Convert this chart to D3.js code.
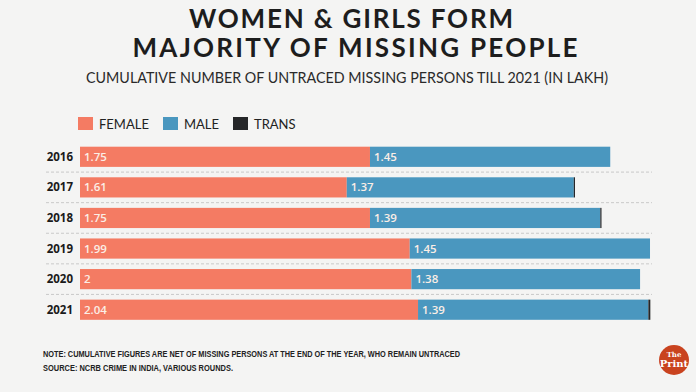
<!DOCTYPE html>
<html>
<head>
<meta charset="utf-8">
<script src="https://cdn.jsdelivr.net/npm/d3@7"></script>
<style>
  html, body { margin: 0; padding: 0; background: #f4f4f3; }
  svg { display: block; }
</style>
</head>
<body>
<svg id="chart" width="696" height="392"></svg>
<script>
const years = ['2016', '2017', '2018', '2019', '2020', '2021']
const female = [1.75, 1.61, 1.75, 1.99, 2, 2.04]
const male = [1.45, 1.37, 1.39, 1.45, 1.38, 1.39]
const trans = [0, 0.006, 0.006, 0, 0, 0.012]
const seriesNames = ['FEMALE', 'MALE', 'TRANS']
const colors = ['#f47b63', '#4a97bf', '#252628']

const svg = d3.select('#chart')
const W = 696

// titles
const titleFont = 'bold 26px Lato, "Noto Sans", sans-serif'
svg.append('text')
  .attr('x', W / 2 + 3).attr('y', 28)
  .attr('text-anchor', 'middle')
  .attr('textLength', 324).attr('lengthAdjust', 'spacing')
  .style('font', titleFont)
  .attr('fill', '#1d1d1d')
  .text('WOMEN & GIRLS FORM')
svg.append('text')
  .attr('x', W / 2 + 7).attr('y', 57)
  .attr('text-anchor', 'middle')
  .attr('textLength', 445).attr('lengthAdjust', 'spacing')
  .style('font', titleFont)
  .attr('fill', '#1d1d1d')
  .text('MAJORITY OF MISSING PEOPLE')
svg.append('text')
  .attr('x', 86).attr('y', 83)
  .attr('textLength', 522).attr('lengthAdjust', 'spacingAndGlyphs')
  .style('font', '400 14.5px Lato, "Noto Sans", sans-serif')
  .attr('fill', '#2a2a2a')
  .text('CUMULATIVE NUMBER OF UNTRACED MISSING PERSONS TILL 2021 (IN LAKH)')

// legend
const legendX = [78, 163, 233]
const legend = svg.append('g')
seriesNames.forEach((name, i) => {
  legend.append('rect')
    .attr('x', legendX[i]).attr('y', 117)
    .attr('width', 15).attr('height', 13)
    .attr('fill', colors[i])
  legend.append('text')
    .attr('x', legendX[i] + 21).attr('y', 128.5)
    .style('font', '13px Lato, "Noto Sans", sans-serif')
    .attr('fill', '#222')
    .text(name)
})

// scales
const x = d3.scaleLinear().domain([0, 3.5]).range([80, 80 + 3.5 * 165.7])
const y = d3.scaleBand().domain(years).range([141.5, 325]).paddingInner(0.34).paddingOuter(0.17)

const rows = years.map((yr, i) => ({year: yr, values: [female[i], male[i], trans[i]]}))

// dashed separators
svg.append('g').selectAll('line')
  .data(years.slice(1))
  .join('line')
  .attr('x1', 46).attr('x2', 652)
  .attr('y1', d => y(d) - y.step() * y.paddingInner() / 2)
  .attr('y2', d => y(d) - y.step() * y.paddingInner() / 2)
  .attr('stroke', '#c9c9c9')
  .attr('stroke-width', 1)
  .attr('stroke-dasharray', '3,2')

// bars
const rowG = svg.append('g').selectAll('g.row')
  .data(rows)
  .join('g').attr('class', 'row')

rowG.each(function (d) {
  const g = d3.select(this)
  let acc = 0
  d.values.forEach((v, i) => {
    const x0 = x(acc), x1 = x(acc + v)
    acc += v
    if (v <= 0) return
    g.append('rect')
      .attr('x', x0).attr('y', y(d.year))
      .attr('width', Math.max(1.2, x1 - x0))
      .attr('height', y.bandwidth())
      .attr('fill', colors[i])
    if (i < 2) {
      g.append('text')
        .attr('x', x0 + 4).attr('y', y(d.year) + y.bandwidth() / 2 + 4)
        .style('font', '600 11.5px "Open Sans", "Noto Sans", sans-serif')
        .attr('fill', '#fbeee6')
        .text(v)
    }
  })
})

// year labels
svg.append('g').selectAll('text')
  .data(years)
  .join('text')
  .attr('x', 73).attr('y', d => y(d) + y.bandwidth() / 2 + 4)
  .attr('text-anchor', 'end')
  .style('font', 'bold 11.5px "Open Sans", "Noto Sans", sans-serif')
  .attr('fill', '#1a1a1a')
  .text(d => d)

// notes
const notes = [
  'NOTE: CUMULATIVE FIGURES ARE NET OF MISSING PERSONS AT THE END OF THE YEAR, WHO REMAIN UNTRACED',
  'SOURCE: NCRB CRIME IN INDIA, VARIOUS ROUNDS.'
]
const noteLengths = [417, 190]
svg.append('g').selectAll('text')
  .data(notes)
  .join('text')
  .attr('x', 43).attr('y', (d, i) => 356.5 + i * 14)
  .attr('textLength', (d, i) => noteLengths[i]).attr('lengthAdjust', 'spacingAndGlyphs')
  .style('font', 'bold 8.6px "Liberation Sans Narrow", "Liberation Sans", sans-serif')
  .attr('fill', '#222')
  .text(d => d)

// logo
const logo = svg.append('g').attr('transform', 'translate(674,360)')
logo.append('circle').attr('r', 15).attr('fill', '#c9431f')
logo.append('text').attr('y', -3).attr('text-anchor', 'middle')
  .style('font', 'bold 7px "DejaVu Serif", serif').attr('fill', '#fff').text('The')
logo.append('text').attr('y', 7).attr('text-anchor', 'middle')
  .style('font', 'bold 10px "DejaVu Serif", serif').attr('fill', '#fff').text('Print')
</script>
</body>
</html>
